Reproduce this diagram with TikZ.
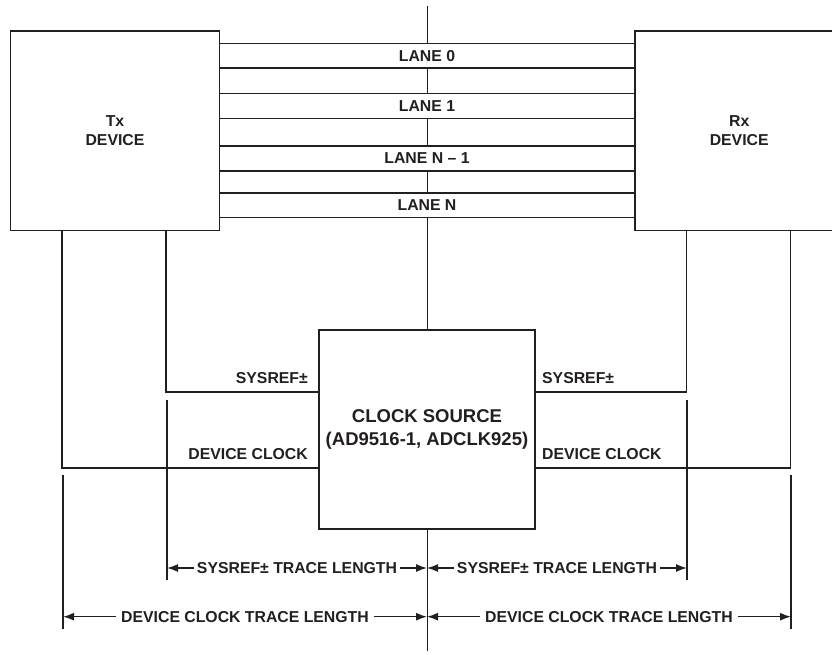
\documentclass[tikz,border=0pt]{standalone}
\usepackage{fontspec}
\setmainfont{Liberation Sans}
\usetikzlibrary{arrows.meta,positioning}
\definecolor{linkInk}{HTML}{231F20}
\tikzset{
  every picture/.style={font=\bfseries\fontsize{15.8}{18.3}\selectfont, text=linkInk},
  link box/.style={draw=linkInk, line width=1.7pt, fill=white, align=center,
    inner sep=0pt},
  link lane/.style={draw=linkInk, line width=1.3pt, fill=white,
    minimum width=415.2pt, minimum height=24.8pt, inner sep=0pt},
  link wire/.style={draw=linkInk, line width=1.5pt},
  link ext/.style={draw=linkInk, line width=1.7pt},
  link axis/.style={draw=linkInk, line width=1pt},
  link dim/.style={-{Latex[length=11pt,width=8pt]},
    draw=linkInk, line width=1.4pt},
  link tag/.style={inner sep=0pt}
}

\begin{document}
\begin{tikzpicture}[x=1pt,y=-1pt]
  \useasboundingbox (0,0) rectangle (832,655);
  \clip (0,0) rectangle (832,655);
  % centre axis
  \coordinate (axtop) at (427,6);
  \coordinate (axbot) at (427,651);
  \draw[link axis] (axtop) -- (axbot);
  % lanes
  \foreach \y/\lab [count=\i] in {55.7/LANE 0,106.2/LANE 1,158.5/LANE N -- 1,205.4/LANE N}
    \node[link lane] (lane\i) at (427,\y) {\lab};
  % devices
  \node[link box, minimum width=209pt, minimum height=199.5pt] (tx) at (115,130.75) {Tx\\DEVICE};
  \node[link box, minimum width=209pt, minimum height=199.5pt] (rx) at (739.2,130.75) {Rx\\DEVICE};
  \node[link box, minimum width=216pt, minimum height=199pt,
    font=\bfseries\fontsize{18.5}{23.5}\selectfont] (clk) at (427,429.5) {CLOCK SOURCE\\(AD9516-1, ADCLK925)};
  % clock wiring
  \draw[link wire] ([xshift=156.5pt]tx.south west) |- ([yshift=37.5pt]clk.west);
  \draw[link wire] ([xshift=52.5pt]tx.south west) |- ([yshift=-38.5pt]clk.west);
  \draw[link wire] ([xshift=52.5pt]rx.south west) |- ([yshift=37.5pt]clk.east);
  \draw[link wire] ([xshift=156.5pt]rx.south west) |- ([yshift=-38.5pt]clk.east);
  \node[link tag, anchor=base east] (srefL) at (308,383) {SYSREF±};
  \node[link tag, anchor=base east] (dclkL) at (308,459) {DEVICE CLOCK};
  \node[link tag, anchor=base west] (srefR) at (542,383) {SYSREF±};
  \node[link tag, anchor=base west] (dclkR) at (542,459) {DEVICE CLOCK};
  % extension lines
  \foreach \x/\a/\b in {167/400/580,687/400/580,63/475/629,791/475/629}
    \draw[link ext] (\x,\a) -- (\x,\b);
  % trace lengths
  \coordinate (sL) at (167,568);
  \coordinate (sM) at (427,568);
  \coordinate (sR) at (687,568);
  \coordinate (dL) at (63,616.7);
  \coordinate (dM) at (427,616.7);
  \coordinate (dR) at (791,616.7);
  \node[link tag, inner xsep=3pt] (sysL) at (297,568) {SYSREF± TRACE LENGTH};
  \node[link tag, inner xsep=3pt] (sysR) at (557,568) {SYSREF± TRACE LENGTH};
  \node[link tag, inner xsep=5pt] (devL) at (245,616.7) {DEVICE CLOCK TRACE LENGTH};
  \node[link tag, inner xsep=5pt] (devR) at (609,616.7) {DEVICE CLOCK TRACE LENGTH};
  \draw[link dim] (sysL) -- (sL);
  \draw[link dim] (sysL) -- (sM);
  \draw[link dim] (sysR) -- (sM);
  \draw[link dim] (sysR) -- (sR);
  \draw[link dim] (devL) -- (dL);
  \draw[link dim] (devL) -- (dM);
  \draw[link dim] (devR) -- (dM);
  \draw[link dim] (devR) -- (dR);
\end{tikzpicture}
\end{document}
